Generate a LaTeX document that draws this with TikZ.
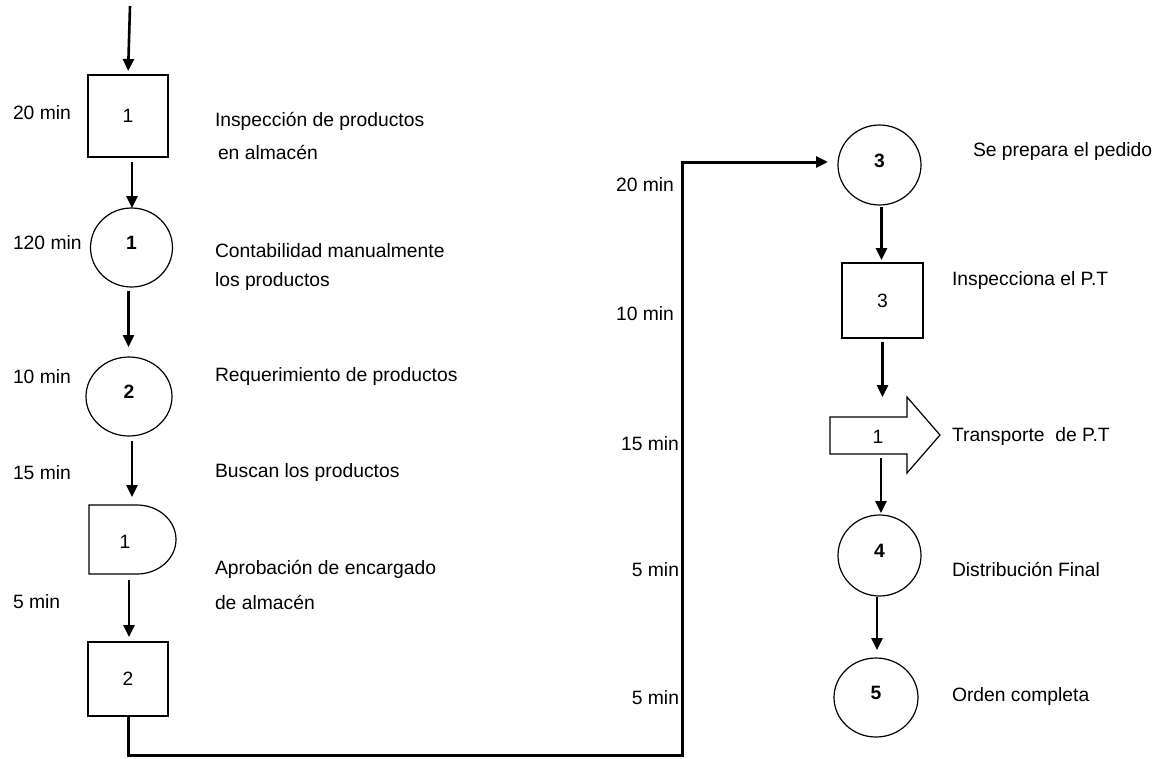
\documentclass[tikz,border=0pt]{standalone}
\usepackage{fontspec}
\setmainfont{Liberation Sans}
\usetikzlibrary{arrows.meta,shapes.geometric}
\newcommand\dfont{\fontsize{19.3}{23}\selectfont}
\begin{document}
\begin{tikzpicture}[x=1pt,y=-1pt,
  every node/.style={font=\dfont, inner sep=0pt, outer sep=0pt},
  shp/.style={draw, line width=1.2pt, line join=miter},
  opbox/.style={shp, rectangle, minimum width=80pt, minimum height=#1},
  opcirc/.style={shp, ellipse, text height=14pt, text depth=10pt, font=\dfont\bfseries},
  arr/.style={line width=2.6pt, -{Triangle[length=12pt,width=11pt]}},
  flow/.style={line width=3pt, line join=miter, -{Triangle[length=12pt,width=11pt]}},
  timeL/.style={anchor=west},
  timeR/.style={anchor=east},
  desc/.style={anchor=west}]
\useasboundingbox (0,0) rectangle (1157,758);

% ---- left column: symbols ----
\node[opbox=82pt] (b1) at (128,116) {1};
\node[opcirc, minimum width=82pt, minimum height=79pt] (c1) at (131.5,247.5) {1};
\node[opcirc, minimum width=86pt, minimum height=79pt] (c2) at (129,396.5) {2};
\node[minimum width=87pt, minimum height=69pt] (d1) at (132.5,539.5) {};
\node (d1n) at (125,542) {1};
\node[opbox=74pt] (b2) at (128,679) {2};

% delay symbol (D shape)
\draw[shp] (d1.south west) -- (d1.north west) -- ++(48,0)
  arc[start angle=-90, end angle=90, x radius=39, y radius=34.5] -- cycle;

% ---- right column: symbols ----
\node[opcirc, minimum width=83pt, minimum height=80pt] (c3) at (879.5,165) {3};
\node[opbox=75pt, minimum width=81pt] (b3) at (882.5,300.5) {3};
\node[minimum width=77pt, minimum height=37pt] (t1) at (868.5,435.5) {};
\node (t1n) at (878,437) {1};
\node[opcirc, minimum width=83pt, minimum height=81pt] (c4) at (879.5,555.5) {4};
\node[opcirc, minimum width=84pt, minimum height=79pt] (c5) at (876,697.5) {5};

% transport block arrow
\draw[shp] (t1.north west) -- (t1.north east) -- ++(0,-20) -- ++(33,38)
  -- ++(-33,38) -- (t1.south east) -- (t1.south west) -- cycle;

% ---- connectors ----
\coordinate (in) at (130,6);
\coordinate (turn) at (682,755);
\draw[arr, shorten >=4pt] (in) -- (b1.north);
\draw[arr, shorten <=5pt] ([xshift=4pt]b1.south) -- ([xshift=4pt]b1.south |- c1.north);
\draw[arr, shorten <=4pt, shorten >=10pt] ([xshift=-3pt]c1.south) -- ([xshift=-3pt]c1.south |- c2.north);
\draw[arr, shorten <=5pt, shorten >=8pt] ([xshift=3pt]c2.south) -- ([xshift=3pt]c2.south |- d1.north);
\draw[arr, shorten <=6pt, shorten >=5pt] ([xshift=-3.5pt]d1.south) -- ([xshift=-3.5pt]d1.south |- b2.north);
\draw[flow, shorten >=10pt] (b2.south) |- (turn) |- ([yshift=3pt]c3.west);
\draw[arr, shorten <=2pt, shorten >=3pt] ([xshift=2pt]c3.south) -- ([xshift=2pt]c3.south |- b3.north);
\draw[arr, shorten <=4pt, shorten >=20pt] (b3.south) -- (b3.south |- t1.north);
\draw[arr, shorten <=4pt, shorten >=2pt] ([xshift=1.5pt]c4.north |- t1.south) -- ([xshift=1.5pt]c4.north);
\draw[arr, shorten <=1pt, shorten >=8pt] ([xshift=-2.5pt]c4.south) -- ([xshift=-2.5pt]c4.south |- c5.north);

% ---- times ----
\node[timeL] (tA) at (13,113) {20 min};
\node[timeL] (tB) at (13,243) {120 min};
\node[timeL] (tC) at (13,377) {10 min};
\node[timeL] (tD) at (13,473) {15 min};
\node[timeL] (tE) at (13,602) {5 min};
\node[timeR] (tF) at (674,185) {20 min};
\node[timeR] (tG) at (674,314) {10 min};
\node[timeR] (tH) at (679,444) {15 min};
\node[timeR] (tI) at (679,570) {5 min};
\node[timeR] (tJ) at (679,698) {5 min};

% ---- descriptions ----
\node[desc] (eA) at (215,121) {Inspección de productos};
\node[desc] (eB) at (218,152) {en almacén};
\node[desc] (eC) at (215,251) {Contabilidad manualmente};
\node[desc] (eD) at (215,282) {los productos};
\node[desc] (eE) at (215,377) {Requerimiento de productos};
\node[desc] (eF) at (215,473) {Buscan los productos};
\node[desc] (eG) at (215,569) {Aprobación de encargado};
\node[desc] (eH) at (215,602) {de almacén};
\node[desc] (eI) at (973,152) {Se prepara el pedido};
\node[desc] (eJ) at (952,281) {Inspecciona el P.T};
\node[desc] (eK) at (952,437) {Transporte\ \ de P.T};
\node[desc] (eL) at (952,569) {Distribución Final};
\node[desc] (eM) at (952,697) {Orden completa};
\end{tikzpicture}
\end{document}
